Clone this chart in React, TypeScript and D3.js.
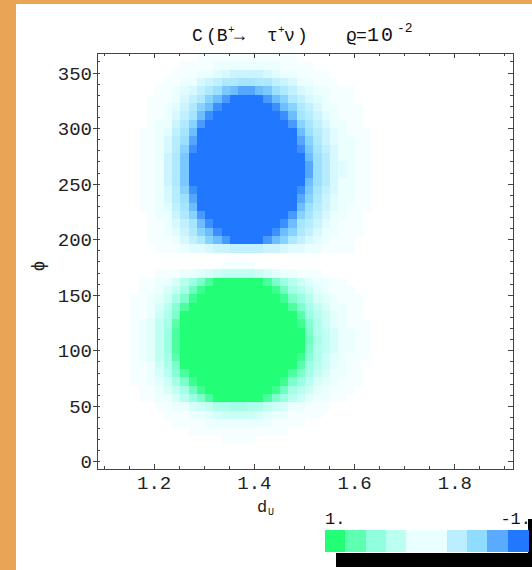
import React from 'react';
import * as d3 from 'd3';

// frame range of the density plot
const duRange = [1.086, 1.916];
const phiRange = [-6.3, 368];
const duTicks = [1.2, 1.4, 1.6, 1.8];
const phiTicks = [0, 50, 100, 150, 200, 250, 300, 350];

// colour function: value -> colour
const colorValues = [1, 0.78, 0.56, 0.33, 0.11, 0, -0.11, -0.33, -0.56, -0.78, -1];
const colorRange = ['#22ff77', '#5effb0', '#90ffde', '#bbfff0', '#eaffff', '#ffffff',
  '#eaffff', '#bbeeff', '#90dcff', '#5aabff', '#2277ff'];

// legend swatches, left to right
const legendValues = [1, 0.78, 0.56, 0.33, 0.11, -0.11, -0.33, -0.56, -0.78, -1];

// C(B -> tau nu), 50 x 50 cells, first row = top (phi ~ 364)
// '0' = 0, a..t = +0.05..+1, A..T = -0.05..-1, trailing zeros left out
const densityRows = [
  '000000000000AAAAAAAAAAAA',
  '0000000000AAAABBBBBBBBAAAA',
  '000000000AAABBCDEEEEDCBBAAAA',
  '00000000AABBDEFHHIIHHFEDBBAAA',
  '0000000AABCDFHJMNPPNMJHFDCBBAAA',
  '000000AAABDFHLNQTTTTQNLHFDCBAAA',
  '000000AABCEHLNRTTTTTTRNLHFDBBAAA',
  '000000AABDFINRTTTTTTTTRNIGECBAAA',
  '000000ABBEHLQTTTTTTTTTTQLIFDBBAA',
  '00000AABCFINTTTTTTTTTTTTNJGECBAAA',
  '00000AABDGJPTTTTTTTTTTTTPLHECBBAA',
  '00000AABDGLRTTTTTTTTTTTTRMIFDBBAA',
  '00000AABEHMTTTTTTTTTTTTTTNJGDBBAA',
  '00000AABEHMTTTTTTTTTTTTTTPJGDCBAA',
  '00000AABEHMTTTTTTTTTTTTTTPJGDCBAA',
  '00000AABEHMTTTTTTTTTTTTTTNJGDBBAA',
  '00000AABDGLRTTTTTTTTTTTTRMIFDBBAA',
  '00000AABDGJPTTTTTTTTTTTTPLHECBBAA',
  '00000AABCFINTTTTTTTTTTTTNJGECBAAA',
  '000000ABBEHLQTTTTTTTTTTQLIFDBBAA',
  '000000AABDFINRTTTTTTTTRNIGECBAAA',
  '000000AABCEHLNRTTTTTTRNLHFDBBAAA',
  '000000AAABDFHLNQTTTTQNLHFDCBAAA',
  '0000000AAABCCDEEFFFFEEDCCBBAAAA',
  '',
  '000000000000000aaaa',
  '0000000aaabbcdeffffedcbbaaa',
  '00000aabbdgjmqttttttqmjgecbbaa',
  '00000aabdfinrttttttttrnigecbaaa',
  '0000aabceimrttttttttttrmjgdcbaaa',
  '0000aabdglqttttttttttttqmifdbbaa',
  '0000aabehmttttttttttttttpjgecbaa',
  '0000abcfipttttttttttttttrlhecbaaa',
  '0000abcfjqtttttttttttttttmhfdbbaa',
  '0000abcfjqtttttttttttttttnifdbbaa',
  '0000abcfjqtttttttttttttttmhfdbbaa',
  '0000abcfipttttttttttttttrlhecbaaa',
  '0000aabehmttttttttttttttpjgecbaa',
  '0000aabdglqttttttttttttqmifdbbaa',
  '0000aabceimrttttttttttrmjgdcbaaa',
  '00000aabdfinrttttttttrnigecbaaa',
  '00000aabbdgjmqttttttqmjgecbbaa',
  '0000000aabbdefhhiihhfedbbaaa',
  '00000000aaabbcdeeeedcbbaaaa',
  '000000000aaaabbbbbbbbaaaa',
  '00000000000aaaaaaaaaaaa',
  '000000000000000aaaa',
  '',
  '',
  '',
];

const nCols = 50;
const plot = { left: 97, right: 513, top: 53, bottom: 469 };
const mono = "'Liberation Mono', 'DejaVu Sans Mono', monospace";

const cellValue = (ch: string) => {
  if (ch >= 'a' && ch <= 't') return (ch.charCodeAt(0) - 96) * 0.05;
  if (ch >= 'A' && ch <= 'T') return -(ch.charCodeAt(0) - 64) * 0.05;
  return 0;
};

export default function App() {
  const x = d3.scaleLinear().domain(duRange).range([plot.left, plot.right]);
  const y = d3.scaleLinear().domain(phiRange).range([plot.bottom, plot.top]);
  const color = d3.scaleLinear<string>().domain(colorValues).range(colorRange).clamp(true);

  const nRows = densityRows.length;
  const dDu = (duRange[1] - duRange[0]) / nCols;
  const dPhi = (phiRange[1] - phiRange[0]) / nRows;

  const cells: JSX.Element[] = [];
  densityRows.forEach((row, r) => {
    row.padEnd(nCols, '0').slice(0, nCols).split('').forEach((ch, c) => {
      const v = cellValue(ch);
      if (v === 0) return;
      const x0 = Math.round(x(duRange[0] + c * dDu));
      const x1 = Math.round(x(duRange[0] + (c + 1) * dDu));
      const phiTop = phiRange[1] - r * dPhi;
      const y0 = Math.round(y(phiTop));
      const y1 = Math.round(y(phiTop - dPhi));
      cells.push(
        <rect key={`${r}-${c}`} x={x0} y={y0} width={x1 - x0} height={y1 - y0} fill={color(v)} />
      );
    });
  });

  const xMinor = x.ticks(20);
  const yMinor = y.ticks(40);
  const isMajorX = (t: number) => Math.abs(t * 5 - Math.round(t * 5)) < 1e-6;

  const legend = d3.scaleBand().domain(legendValues.map(String)).range([325, 528]);

  return (
    <svg width={532} height={570} style={{ position: 'absolute', left: 0, top: 0, background: '#fff' }}>
      <rect x={0} y={0} width={532} height={570} fill="#fff" />
      <rect x={0} y={0} width={16} height={570} fill="#e9a555" />
      <rect x={0} y={0} width={532} height={4} fill="#e9a555" />

      <text x={192} y={41} fontFamily={mono} fontSize={18} fill="#111">C</text>
      <text x={206} y={41} fontFamily={mono} fontSize={18} fill="#111">(B</text>
      <text x={228} y={33} fontFamily={mono} fontSize={11} fill="#111">+</text>
      <text x={234} y={41} fontFamily={mono} fontSize={18} fill="#111">→</text>
      <text x={267} y={41} fontFamily={mono} fontSize={18} fill="#111">τ</text>
      <text x={278} y={33} fontFamily={mono} fontSize={11} fill="#111">+</text>
      <text x={284} y={41} fontFamily={mono} fontSize={18} fill="#111">ν</text>
      <text x={297} y={41} fontFamily={mono} fontSize={18} fill="#111">)</text>
      <text x={346} y={41} fontFamily={mono} fontSize={18} fill="#111">ϱ</text>
      <text x={356} y={41} fontFamily={mono} fontSize={18} fill="#111">=</text>
      <text x={367} y={41} fontFamily={mono} fontSize={20} letterSpacing={2} fill="#111">10</text>
      <text x={397} y={32} fontFamily={mono} fontSize={13} fill="#111">-2</text>

      <g shapeRendering="crispEdges">{cells}</g>

      <g stroke="#444" strokeWidth={1} shapeRendering="crispEdges">
        {xMinor.map((t) => {
          const len = isMajorX(t) ? 5 : 3;
          return (
            <g key={`xt${t}`}>
              <line x1={x(t)} x2={x(t)} y1={plot.bottom} y2={plot.bottom - len} />
              <line x1={x(t)} x2={x(t)} y1={plot.top} y2={plot.top + len} />
            </g>
          );
        })}
        {yMinor.map((t) => {
          const major = t % 50 === 0;
          return (
            <g key={`yt${t}`}>
              {major
                ? <line x1={plot.left - 4} x2={plot.left + 3} y1={y(t)} y2={y(t)} />
                : <line x1={plot.left} x2={plot.left + 3} y1={y(t)} y2={y(t)} />}
              <line x1={plot.right} x2={plot.right - (major ? 5 : 3)} y1={y(t)} y2={y(t)} />
            </g>
          );
        })}
        <rect x={plot.left} y={plot.top} width={plot.right - plot.left} height={plot.bottom - plot.top}
          fill="none" />
      </g>

      <g fontFamily={mono} fontSize={19} fill="#222">
        {duTicks.map((t) => (
          <text key={`xl${t}`} x={x(t)} y={489} textAnchor="middle">{t.toFixed(1)}</text>
        ))}
        {phiTicks.map((t) => (
          <text key={`yl${t}`} x={92} y={y(t) + 6.5} textAnchor="end">{t}</text>
        ))}
      </g>

      <text x={257} y={512} fontFamily={mono} fontSize={17} fill="#222">d</text>
      <text x={268} y={515} fontFamily={mono} fontSize={10} fill="#222">U</text>
      <text transform="translate(44,266) rotate(-90)" textAnchor="middle" fontFamily={mono}
        fontSize={18} fill="#222">ϕ</text>

      <rect x={336} y={519} width={200} height={48} fill="#000" />
      <rect x={322} y={505} width={206} height={48} fill="#fff" />
      <g shapeRendering="crispEdges">
        {legendValues.map((v) => (
          <rect key={`lg${v}`} x={legend(String(v))} y={530} width={legend.bandwidth() + 0.5}
            height={22} fill={color(v)} />
        ))}
      </g>
      <text x={325} y={524} fontFamily={mono} fontSize={17} fill="#111">1.</text>
      <text x={531} y={524} textAnchor="end" fontFamily={mono} fontSize={17} fill="#111">-1.</text>
    </svg>
  );
}
